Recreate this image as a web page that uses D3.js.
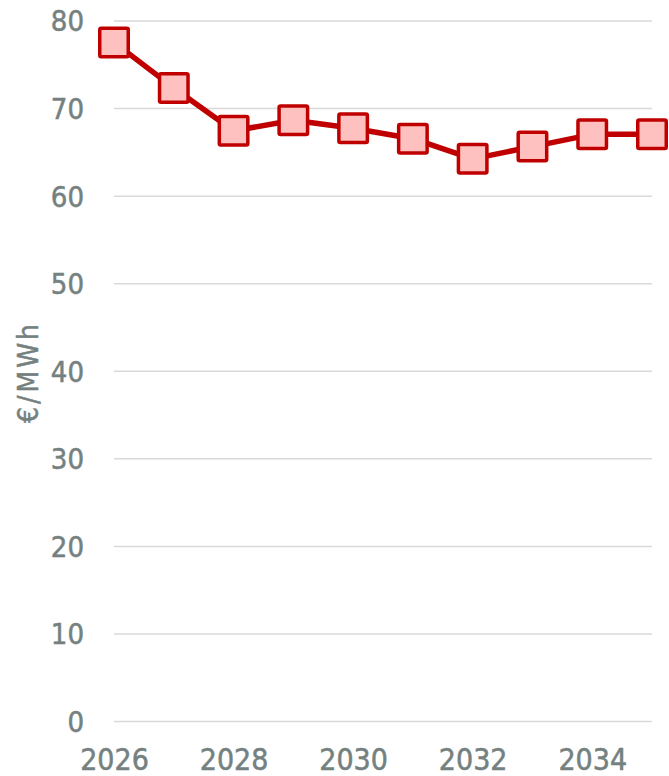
<!DOCTYPE html>
<html>
<head>
<meta charset="utf-8">
<script src="https://cdn.jsdelivr.net/npm/d3@7"></script>
<style>
  html, body { margin: 0; padding: 0; background: #fff; }
  svg { display: block; }
  .tick text, .axis-title {
    font-family: "DejaVu Sans Condensed", "DejaVu Sans", sans-serif;
    fill: #748180; stroke: #748180; stroke-width: 0.5px;
  }
</style>
</head>
<body>
<svg id="chart" width="669" height="776"></svg>
<script>
// Annual price path, €/MWh
const years = [2026, 2027, 2028, 2029, 2030, 2031, 2032, 2033, 2034, 2035];
const prices = [77.5, 72.3, 67.4, 68.6, 67.7, 66.5, 64.2, 65.6, 67.0, 67.0];
const yTicks = [0, 10, 20, 30, 40, 50, 60, 70, 80];
const xTicks = [2026, 2028, 2030, 2032, 2034];
const yTitle = "€/MWh";

const svg = d3.select("#chart");
const plot = { left: 114, right: 652, top: 20.5, bottom: 721 };

const x = d3.scaleLinear().domain([2026, 2035]).range([plot.left, plot.right]);
const y = d3.scaleLinear().domain([0, 80]).range([plot.bottom, plot.top]);

// horizontal gridlines with value labels
const yAxis = svg.append("g")
  .attr("transform", `translate(${plot.left},0)`)
  .call(d3.axisLeft(y).tickValues(yTicks).tickSize(-(plot.right - plot.left)).tickPadding(30).tickFormat(d3.format("d")));
yAxis.select(".domain").remove();
yAxis.selectAll(".tick line").attr("stroke", "#d9d9d9").attr("stroke-width", 1.5);
yAxis.selectAll(".tick text").attr("font-size", 29).attr("dy", "0.36em");

// year labels
const xAxis = svg.append("g")
  .attr("transform", `translate(0,${plot.bottom})`)
  .call(d3.axisBottom(x).tickValues(xTicks).tickSize(0).tickPadding(28).tickFormat(d3.format("d")));
xAxis.select(".domain").remove();
xAxis.selectAll(".tick text").attr("font-size", 30).attr("dy", "0.71em");

// axis title
svg.append("text")
  .attr("class", "axis-title")
  .attr("transform", "translate(38,372) rotate(-90)")
  .attr("text-anchor", "middle")
  .attr("font-size", 28)
  .attr("letter-spacing", 3)
  .text(yTitle);

const data = years.map((yr, i) => ({ yr, v: prices[i] }));

// connecting line
svg.append("path")
  .datum(data)
  .attr("fill", "none")
  .attr("stroke", "#c00000")
  .attr("stroke-width", 5.5)
  .attr("stroke-linejoin", "round")
  .attr("d", d3.line().x(d => x(d.yr)).y(d => y(d.v)));

// square markers
const side = 28.5;
svg.append("g").selectAll("rect")
  .data(data)
  .join("rect")
  .attr("x", d => x(d.yr) - side / 2)
  .attr("y", d => y(d.v) - side / 2)
  .attr("width", side)
  .attr("height", side)
  .attr("rx", 1.5)
  .attr("fill", "#ffc0c0")
  .attr("stroke", "#c00000")
  .attr("stroke-width", 3.5);
</script>
</body>
</html>
